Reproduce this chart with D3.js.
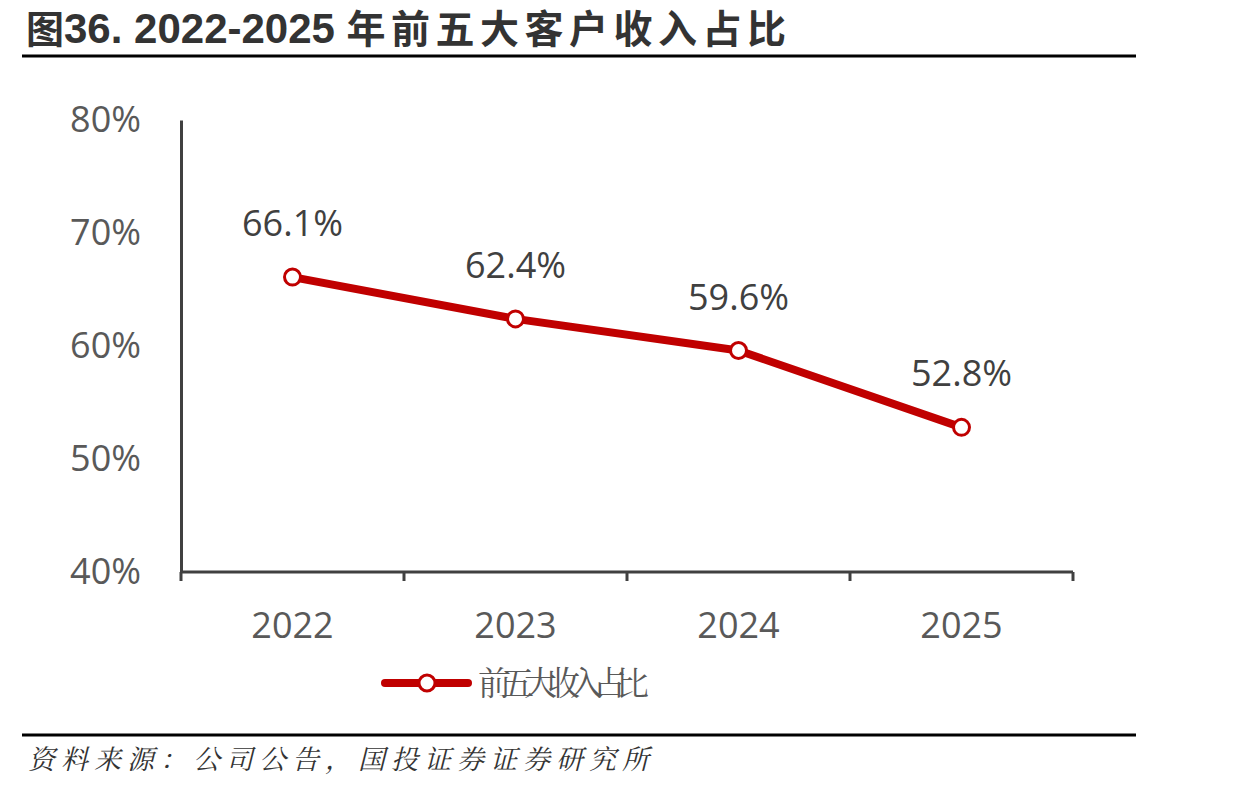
<!DOCTYPE html>
<html>
<head>
<meta charset="utf-8">
<script src="https://cdn.jsdelivr.net/npm/d3@7"></script>
<style>
  body { margin: 0; background: #fff; }
  svg { display: block; }
</style>
</head>
<body>
<svg id="chart" width="1258" height="791"></svg>
<script>
// data
const years = ["2022", "2023", "2024", "2025"];
const topFiveShare = [66.1, 62.4, 59.6, 52.8];
const yTicks = [40, 50, 60, 70, 80];
const seriesName = "前五大收入占比";
const titleParts = ["图", "36. 2022-2025 ", "年前五大客户收入占比"];
const sourceText = "资料来源：公司公告，国投证券证券研究所";

const svg = d3.select("#chart");
const red = "#C00000";
const axisColor = "#404040";
const labelColor = "#595959";
const numFont = "'Open Sans', 'Noto Sans', sans-serif";
const cjkFont = "'Noto Sans CJK SC', sans-serif";

// title: CJK wide, digits narrow
const title = svg.append("text")
  .attr("x", 26).attr("y", 43)
  .attr("font-weight", "bold")
  .attr("fill", "#333");
title.append("tspan")
  .attr("font-family", cjkFont).attr("font-size", 38)
  .text(titleParts[0]);
title.append("tspan")
  .attr("font-family", "'Liberation Sans Narrow', 'Liberation Sans', sans-serif")
  .attr("font-size", 42)
  .text(titleParts[1]);
title.append("tspan")
  .attr("font-family", cjkFont).attr("font-size", 39)
  .attr("letter-spacing", 5.5)
  .text(titleParts[2]);

svg.append("line")
  .attr("x1", 22).attr("x2", 1136).attr("y1", 56).attr("y2", 56)
  .attr("stroke", "#000").attr("stroke-width", 3);

svg.append("line")
  .attr("x1", 22).attr("x2", 1136).attr("y1", 735).attr("y2", 735)
  .attr("stroke", "#000").attr("stroke-width", 3);

svg.append("text")
  .attr("x", 28).attr("y", 769)
  .attr("font-family", "'Noto Serif CJK SC', 'Noto Sans CJK SC', serif")
  .attr("font-style", "italic")
  .attr("font-size", 27)
  .attr("letter-spacing", 6)
  .attr("fill", "#333")
  .text(sourceText);

// scales
const x = d3.scaleBand().domain(years).range([181, 1073]);
const y = d3.scaleLinear().domain([40, 80]).range([572, 120]);

// y axis: line only, labels on the left
const yAxis = svg.append("g")
  .attr("transform", "translate(181,0)")
  .call(d3.axisLeft(y).tickValues(yTicks).tickSize(0).tickPadding(40).tickFormat(d => d + "%"));
yAxis.select(".domain").attr("stroke", axisColor).attr("stroke-width", 3);
yAxis.selectAll("text")
  .attr("font-family", numFont)
  .attr("font-size", 36)
  .attr("fill", labelColor);

// x axis with ticks on band boundaries
const xAxisG = svg.append("g").attr("transform", "translate(0,572)");
xAxisG.append("line")
  .attr("x1", x.range()[0]).attr("x2", x.range()[1])
  .attr("stroke", axisColor).attr("stroke-width", 3);
const bounds = years.map(d => x(d)).concat([x.range()[1]]);
xAxisG.selectAll("line.tick")
  .data(bounds)
  .enter().append("line")
  .attr("class", "tick")
  .attr("x1", d => d).attr("x2", d => d)
  .attr("y1", 0).attr("y2", 9)
  .attr("stroke", axisColor).attr("stroke-width", 3);
xAxisG.selectAll("text")
  .data(years)
  .enter().append("text")
  .attr("x", d => x(d) + x.bandwidth() / 2)
  .attr("y", 66)
  .attr("text-anchor", "middle")
  .attr("font-family", numFont)
  .attr("font-size", 36)
  .attr("fill", labelColor)
  .text(d => d);

// line
const cx = (d, i) => x(years[i]) + x.bandwidth() / 2;
const line = d3.line().x(cx).y(d => y(d));
svg.append("path")
  .datum(topFiveShare)
  .attr("d", line)
  .attr("fill", "none")
  .attr("stroke", red)
  .attr("stroke-width", 8)
  .attr("stroke-linejoin", "round");

svg.selectAll("circle.pt")
  .data(topFiveShare)
  .enter().append("circle")
  .attr("class", "pt")
  .attr("cx", cx)
  .attr("cy", d => y(d))
  .attr("r", 8)
  .attr("fill", "#fff")
  .attr("stroke", red)
  .attr("stroke-width", 3);

svg.selectAll("text.val")
  .data(topFiveShare)
  .enter().append("text")
  .attr("class", "val")
  .attr("x", cx)
  .attr("y", d => y(d) - 41)
  .attr("text-anchor", "middle")
  .attr("font-family", numFont)
  .attr("font-size", 36)
  .attr("fill", "#404040")
  .text(d => d.toFixed(1) + "%");

// legend
const lg = svg.append("g").attr("transform", "translate(385,683)");
lg.append("line")
  .attr("x1", 0).attr("x2", 83)
  .attr("stroke", red).attr("stroke-width", 8).attr("stroke-linecap", "round");
lg.append("circle")
  .attr("cx", 42).attr("r", 8)
  .attr("fill", "#fff").attr("stroke", red).attr("stroke-width", 3);
lg.append("text")
  .attr("x", 93).attr("y", 12)
  .attr("font-family", "'Noto Serif CJK SC', 'Noto Sans CJK SC', serif")
  .attr("font-size", 33)
  .attr("letter-spacing", -10)
  .attr("fill", labelColor)
  .text(seriesName);
</script>
</body>
</html>
